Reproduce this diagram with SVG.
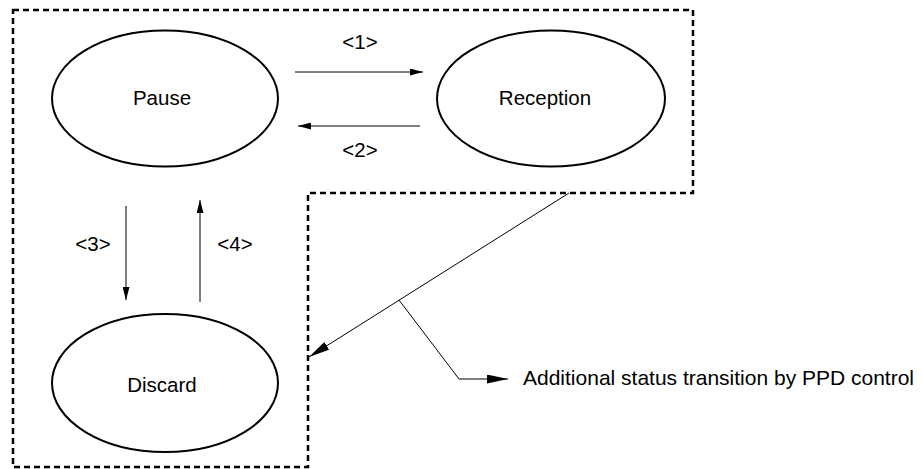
<svg xmlns="http://www.w3.org/2000/svg" width="922" height="469" viewBox="0 0 922 469">
<style>
  .node { fill: #fff; stroke: #000; stroke-width: 2; }
  .lbl { font-family: "Liberation Sans", Arial, sans-serif; font-size: 20.5px; fill: #000; text-anchor: middle; }
  .note { font-family: "Liberation Sans", Arial, sans-serif; font-size: 21px; fill: #000; }
  .conn { stroke: #000; stroke-width: 1; fill: none; }
  .border { stroke: #000; stroke-width: 2.5; fill: none; stroke-dasharray: 6 4; }
</style>
<defs>
  <marker id="ah" markerUnits="userSpaceOnUse" markerWidth="13" markerHeight="7" refX="13" refY="3.5" orient="auto">
    <path d="M0,0 L13,3.5 L0,7 z" fill="#000"/>
  </marker>
  <marker id="ahL" markerUnits="userSpaceOnUse" markerWidth="21" markerHeight="9" refX="21" refY="4.5" orient="auto">
    <path d="M0,0 L21,4.5 L0,9 z" fill="#000"/>
  </marker>
</defs>
<g id="boundary">
  <path class="border" d="M13,10 H693 V193 H308 V467 H13 Z"/>
</g>
<g id="pause">
  <ellipse class="node" cx="165" cy="98.5" rx="113" ry="68"/>
  <text class="lbl" x="162" y="105">Pause</text>
</g>
<g id="reception">
  <ellipse class="node" cx="551" cy="98.5" rx="114" ry="68"/>
  <text class="lbl" x="545" y="105">Reception</text>
</g>
<g id="discard">
  <ellipse class="node" cx="165" cy="383" rx="113" ry="69"/>
  <text class="lbl" x="162" y="392">Discard</text>
</g>
<g id="connectors">
  <line class="conn" x1="295" y1="72" x2="423" y2="72" marker-end="url(#ah)"/>
  <line class="conn" x1="420" y1="126" x2="298" y2="126" marker-end="url(#ah)"/>
  <line class="conn" x1="126" y1="206" x2="126" y2="300" marker-end="url(#ah)"/>
  <line class="conn" x1="200" y1="302" x2="200" y2="200" marker-end="url(#ah)"/>
  <line class="conn" x1="569" y1="193" x2="309" y2="357" marker-end="url(#ahL)"/>
  <polyline class="conn" points="399,300 459,379 508,379" marker-end="url(#ahL)"/>
</g>
<g id="labels">
  <text class="lbl" x="360" y="49">&lt;1&gt;</text>
  <text class="lbl" x="360" y="157">&lt;2&gt;</text>
  <text class="lbl" x="93" y="251">&lt;3&gt;</text>
  <text class="lbl" x="235" y="251">&lt;4&gt;</text>
  <text class="note" x="523" y="385">Additional status transition by PPD control</text>
</g>
</svg>
